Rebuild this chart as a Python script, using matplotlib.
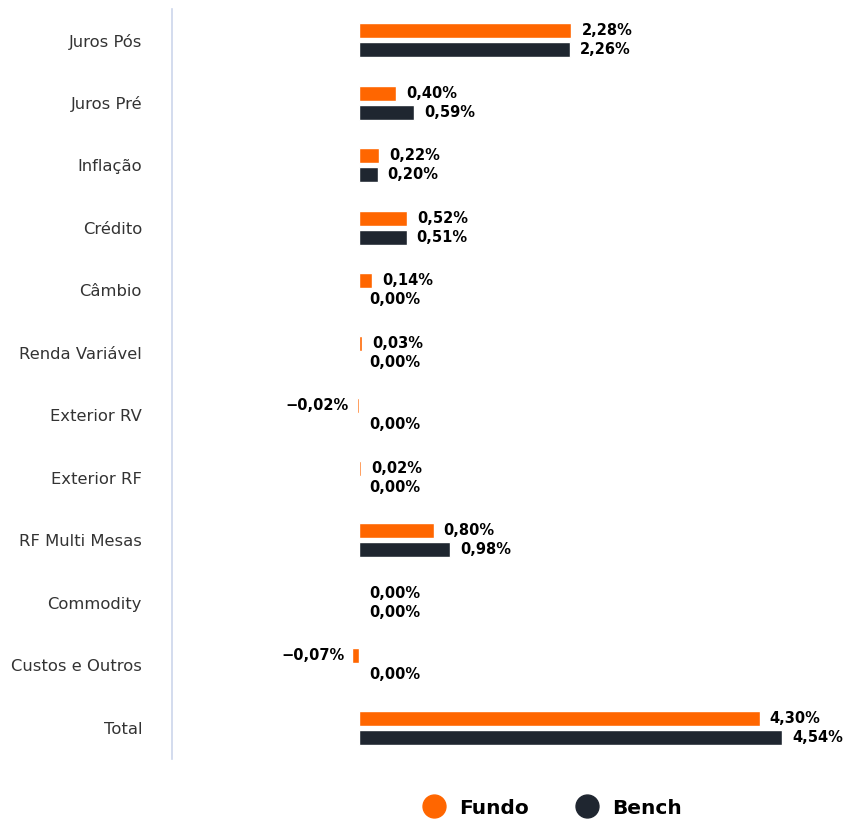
import matplotlib
matplotlib.use("Agg")
import matplotlib.pyplot as plt
from matplotlib.lines import Line2D
import numpy as np

categories = ["Juros Pós", "Juros Pré", "Inflação", "Crédito", "Câmbio", "Renda Variável",
              "Exterior RV", "Exterior RF", "RF Multi Mesas", "Commodity", "Custos e Outros", "Total"]
fundo = [2.28, 0.40, 0.22, 0.52, 0.14, 0.03, -0.02, 0.02, 0.80, 0.00, -0.07, 4.30]
bench = [2.26, 0.59, 0.20, 0.51, 0.00, 0.00, 0.00, 0.00, 0.98, 0.00, 0.00, 4.54]
series_names = ["Fundo", "Bench"]
colors = ["#FF6600", "#1F2630"]

W, H = 850, 822
fig = plt.figure(figsize=(W / 100, H / 100), dpi=100)
ax_l, ax_r, ax_t, ax_b = 172, 840, 9, 759
ax = fig.add_axes([ax_l / W, 1 - ax_b / H, (ax_r - ax_l) / W, (ax_b - ax_t) / H])

scale = (782 - 359) / 4.54
xmin = (ax_l - 359) / scale
xmax = (ax_r - 359) / scale
ax.set_xlim(xmin, xmax)
ax.set_ylim(len(categories) - 0.5, -0.5)

y = np.arange(len(categories))
h = 0.235
off = 0.152
for vals, col, d in [(fundo, colors[0], -off), (bench, colors[1], off)]:
    ax.barh(y + d, vals, height=h, color=col, edgecolor="white", linewidth=1.0)
    for yi, v in zip(y, vals):
        txt = f"{v:.2f}".replace(".", ",") + "%"
        txt = txt.replace("-", "\u2212")
        if v < 0:
            ax.annotate(txt, (v, yi + d), xytext=(-8, 0), textcoords="offset pixels",
                        ha="right", va="center", fontsize=10.5, fontweight="bold", color="#000000")
        else:
            ax.annotate(txt, (v, yi + d), xytext=(10, 0), textcoords="offset pixels",
                        ha="left", va="center", fontsize=10.5, fontweight="bold", color="#000000")

ax.set_yticks(y)
ax.set_yticklabels(categories, fontsize=11.8, color="#333333")
ax.tick_params(axis="y", length=0, pad=21.6)
ax.set_xticks([])
for s in ["top", "right", "bottom"]:
    ax.spines[s].set_visible(False)
ax.spines["left"].set_color("#ccd6eb")
ax.spines["left"].set_linewidth(1.2)

handles = [Line2D([0], [0], marker="o", linestyle="", markersize=16.5,
                  markerfacecolor=c, markeredgecolor=c) for c in colors]
leg = fig.legend(handles, series_names, loc="center", bbox_to_anchor=(548 / W, 1 - 808 / H),
                 ncol=2, frameon=False, handletextpad=0.25, columnspacing=1.85,
                 prop={"size": 14.5, "weight": "bold"})
for t in leg.get_texts():
    t.set_color("#000000")

fig.savefig("out.png", dpi=100)
